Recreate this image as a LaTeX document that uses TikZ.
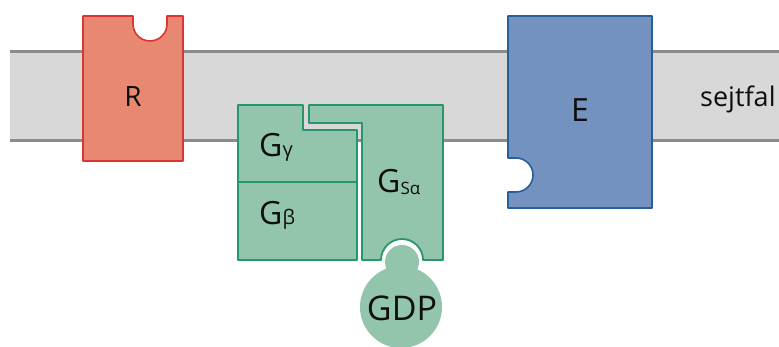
\documentclass[tikz,border=0pt]{standalone}
\usepackage{fontspec}
\setmainfont{Open Sans}
\definecolor{memfill}{RGB}{216,216,216}
\definecolor{memline}{RGB}{140,140,140}
\definecolor{rfill}{RGB}{233,136,112}
\definecolor{rline}{RGB}{222,52,52}
\definecolor{efill}{RGB}{115,146,192}
\definecolor{eline}{RGB}{40,95,150}
\definecolor{gfill}{RGB}{146,197,171}
\definecolor{gline}{RGB}{38,150,108}
\definecolor{txt}{RGB}{15,15,15}
\tikzset{
  rbox/.style={fill=rfill,draw=rline,line width=1.6pt,line join=round},
  ebox/.style={fill=efill,draw=eline,line width=1.6pt,line join=round},
  gbox/.style={fill=gfill,draw=gline,line width=1.8pt,line join=round},
  lbl/.style={text=txt,inner sep=0pt,font=\fontsize{#1}{#1}\selectfont},
}
\newcommand{\subfs}[2]{{\fontsize{#1}{#1}\selectfont #2}}
\begin{document}
\begin{tikzpicture}[x=1pt,y=1pt]
\useasboundingbox (0,0) rectangle (779,347);
% membrane
\fill[memfill] (10,206) rectangle (779,295);
\draw[memline,line width=3pt] (10,295) -- (779,295);
\draw[memline,line width=3pt] (10,206) -- (779,206);
% receptor
\draw[rbox] (83,186) -- (83,331) -- (133,331) -- (133,323)
  arc[start angle=180,end angle=360,radius=17] -- (167,331) -- (183,331) -- (183,186) -- cycle;
\node[lbl=28] (R) at (133,250) {R};
% effector
\draw[ebox] (508,331) -- (652,331) -- (652,139) -- (508,139) -- (508,155) -- (516,155)
  arc[start angle=-90,end angle=90,radius=17] -- (508,189) -- cycle;
\node[lbl=32] (E) at (580,237) {E};
\node[lbl=27,anchor=base west] (sf) at (700,240) {sejtfal};
% G beta
\draw[gbox] (238,87) -- (238,165) -- (357,165) -- (357,87) -- cycle;
% G gamma
\draw[gbox] (238,165) -- (238,242) -- (303,242) -- (303,217) -- (357,217) -- (357,165) -- cycle;
% G s alpha
\draw[gbox] (309,242) -- (443,242) -- (443,87) -- (423,87)
  arc[start angle=0,end angle=180,radius=21] -- (362,87) -- (362,224) -- (309,224) -- cycle;
% GDP
\fill[gfill] (401,40) circle[radius=41];
\fill[gfill] (402,85) circle[radius=17];
\fill[gfill] (388,72) rectangle (416,90);
\node[lbl=34] (GDP) at (402,39) {GDP};
% labels
\node[lbl=32,anchor=base west] (Gg) at (259,190) {G\subfs{20}{γ}};
\node[lbl=32,anchor=base west] (Gb) at (259,122) {G\subfs{20}{β}};
\node[lbl=32,anchor=base west] (Gs) at (377,154) {G\raisebox{-2pt}{\subfs{17}{Sα}}};
\end{tikzpicture}
\end{document}
